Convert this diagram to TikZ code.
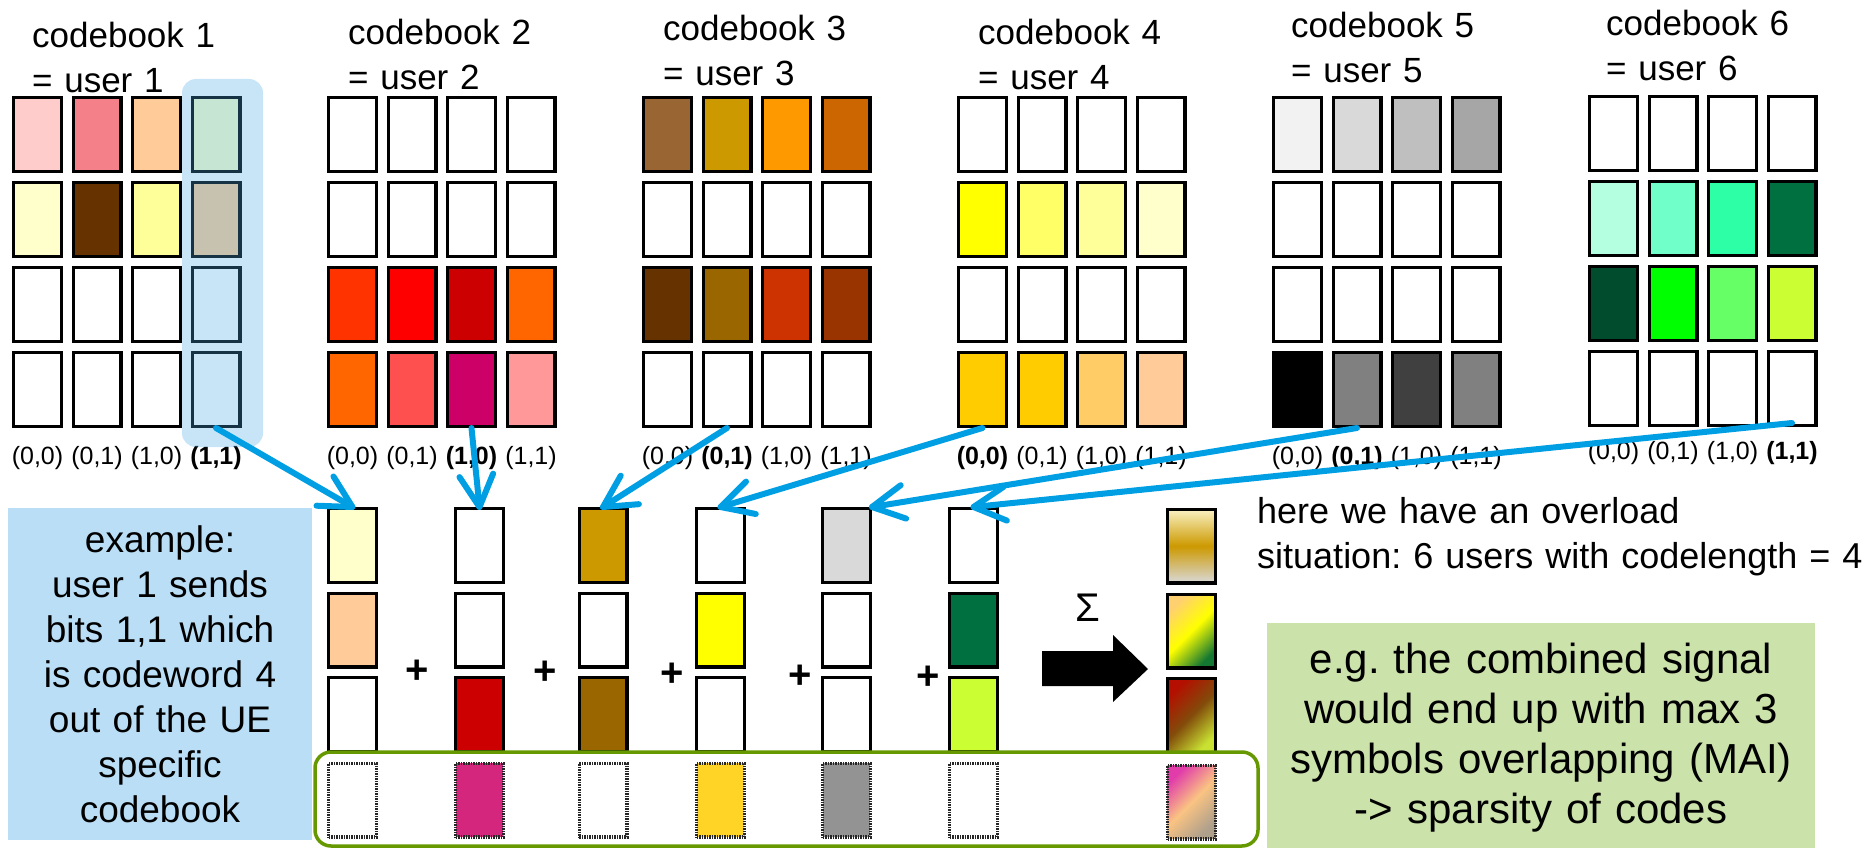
\documentclass[tikz,border=0pt]{standalone}
\usepackage{fontspec}
\setmainfont{Liberation Sans}
\usetikzlibrary{calc}
\frenchspacing
\definecolor{hFFCCCC}{HTML}{FFCCCC}
\definecolor{hF4808A}{HTML}{F4808A}
\definecolor{hFFCC99}{HTML}{FFCC99}
\definecolor{hFFFFCC}{HTML}{FFFFCC}
\definecolor{h663300}{HTML}{663300}
\definecolor{hFFFF99}{HTML}{FFFF99}
\definecolor{hFF3300}{HTML}{FF3300}
\definecolor{hFF0000}{HTML}{FF0000}
\definecolor{hCC0000}{HTML}{CC0000}
\definecolor{hFF6600}{HTML}{FF6600}
\definecolor{hFF5050}{HTML}{FF5050}
\definecolor{hCC0066}{HTML}{CC0066}
\definecolor{hFF9999}{HTML}{FF9999}
\definecolor{h996633}{HTML}{996633}
\definecolor{hCC9900}{HTML}{CC9900}
\definecolor{hFF9900}{HTML}{FF9900}
\definecolor{hCC6600}{HTML}{CC6600}
\definecolor{h996600}{HTML}{996600}
\definecolor{hCC3300}{HTML}{CC3300}
\definecolor{h993300}{HTML}{993300}
\definecolor{hFFFF00}{HTML}{FFFF00}
\definecolor{hFFFF66}{HTML}{FFFF66}
\definecolor{hFFCC00}{HTML}{FFCC00}
\definecolor{hFFCC66}{HTML}{FFCC66}
\definecolor{hF2F2F2}{HTML}{F2F2F2}
\definecolor{hD9D9D9}{HTML}{D9D9D9}
\definecolor{hBFBFBF}{HTML}{BFBFBF}
\definecolor{hA6A6A6}{HTML}{A6A6A6}
\definecolor{h000000}{HTML}{000000}
\definecolor{h808080}{HTML}{808080}
\definecolor{h404040}{HTML}{404040}
\definecolor{hB3FFE0}{HTML}{B3FFE0}
\definecolor{h70FFC8}{HTML}{70FFC8}
\definecolor{h2CFFA6}{HTML}{2CFFA6}
\definecolor{h007040}{HTML}{007040}
\definecolor{h004C2C}{HTML}{004C2C}
\definecolor{h00FF00}{HTML}{00FF00}
\definecolor{h66FF66}{HTML}{66FF66}
\definecolor{hCCFF33}{HTML}{CCFF33}
\definecolor{arrowblue}{HTML}{009FE3}
\definecolor{bluebg}{RGB}{186,222,245}
\definecolor{hilite}{RGB}{70,170,230}
\definecolor{greenbg}{RGB}{203,226,170}
\definecolor{greenframe}{HTML}{669900}
\definecolor{rAtop}{RGB}{250,242,195}
\definecolor{rBtop}{RGB}{255,208,112}
\definecolor{rBbot}{RGB}{20,120,50}
\definecolor{rCtop}{RGB}{180,15,0}
\definecolor{rCmid}{RGB}{130,75,10}
\definecolor{rCbot}{RGB}{200,225,50}
\definecolor{rDtop}{RGB}{225,60,170}
\definecolor{rDmid}{RGB}{250,195,130}
\definecolor{rDbot}{RGB}{175,160,140}

\newcommand\cbgrid[4]{%
  \foreach \cc [count=\n from 0] in {#4}{%
    \pgfmathtruncatemacro\cbrow{\n/4+1}%
    \pgfmathtruncatemacro\cbcol{\n-4*(\cbrow-1)+1}%
    \node[cell, fill=\cc] (cb#1-\cbrow-\cbcol) at ({#2+25.5+59.5*(\cbcol-1)}, {#3+38.5+85*(\cbrow-1)}) {};
  }}
% connector with an open barbed head: #1 start, #2 end
\newcommand\barrow[2]{%
  \draw[bluearrow] (#1) -- (#2);
  \draw[bluearrow] ($(#2)!36pt!28:(#1)$) -- (#2) -- ($(#2)!36pt!-28:(#1)$);
}

\begin{document}
\begin{tikzpicture}[x=1pt,y=-1pt,
  cell/.style={rectangle, draw=black, line width=3.3pt, minimum width=47.7pt, minimum height=73.7pt, inner sep=0pt},
  fadecell/.style={cell, draw=black!85, dash pattern=on 1.5pt off 1pt},
  cbtext/.style={font=\fontsize{35}{44.5}\selectfont, inner sep=0pt, anchor=base west, text width=230pt, align=left},
  bits/.style={font=\fontsize{25}{30}\selectfont, inner sep=0pt, anchor=base},
  plus/.style={font=\bfseries\fontsize{40}{40}\selectfont, inner sep=0pt},
  bluearrow/.style={draw=arrowblue, line width=6pt, line cap=round, line join=round},
  txt/.style={inner sep=0pt}]
\useasboundingbox (0,0) rectangle (1872,848);

% codebook grids
\cbgrid{1}{12}{96}{hFFCCCC,hF4808A,hFFCC99,hFFFFCC, hFFFFCC,h663300,hFFFF99,hFFCC99, white,white,white,white, white,white,white,white}
\cbgrid{2}{327}{96}{white,white,white,white, white,white,white,white, hFF3300,hFF0000,hCC0000,hFF6600, hFF6600,hFF5050,hCC0066,hFF9999}
\cbgrid{3}{642}{96}{h996633,hCC9900,hFF9900,hCC6600, white,white,white,white, h663300,h996600,hCC3300,h993300, white,white,white,white}
\cbgrid{4}{957}{96}{white,white,white,white, hFFFF00,hFFFF66,hFFFF99,hFFFFCC, white,white,white,white, hFFCC00,hFFCC00,hFFCC66,hFFCC99}
\cbgrid{5}{1272}{96}{hF2F2F2,hD9D9D9,hBFBFBF,hA6A6A6, white,white,white,white, white,white,white,white, h000000,h808080,h404040,h808080}
\cbgrid{6}{1588}{95}{white,white,white,white, hB3FFE0,h70FFC8,h2CFFA6,h007040, h004C2C,h00FF00,h66FF66,hCCFF33, white,white,white,white}

% codebook titles
\node[cbtext] (t1) at (32,48) {codebook 1\\= user 1};
\node[cbtext] (t2) at (348,45) {codebook 2\\= user 2};
\node[cbtext] (t3) at (663,41) {codebook 3\\= user 3};
\node[cbtext] (t4) at (978,45) {codebook 4\\= user 4};
\node[cbtext] (t5) at (1291,38) {codebook 5\\= user 5};
\node[cbtext] (t6) at (1606,36) {codebook 6\\= user 6};

% bit labels
\foreach \k/\lx/\by/\sel in {1/12/464/4, 2/327/464/3, 3/642/464/2, 4/957/464/1, 5/1272/464/2, 6/1588/459/4}{
  \foreach \lab [count=\c] in {{(0,0)},{(0,1)},{(1,0)},{(1,1)}}{
    \node[bits] (bits\k-\c) at ({\lx+25.5+59.5*(\c-1)}, \by) {\ifnum\c=\sel\bfseries\fi\lab};
  }}

% highlight of codeword 4 of codebook 1
\fill[hilite, opacity=0.3, rounded corners=14pt] (182,79) rectangle (263,447);

% left explanation box
\fill[bluebg] (8,508) rectangle (312,840);
\node[txt, font=\fontsize{37}{45}\selectfont, text width=304pt, align=center, anchor=base] (ex) at (160,552)
  {example:\\user 1 sends\\bits 1,1 which\\is codeword 4\\out of the UE\\specific\\codebook};

% sent codewords
\foreach \i/\x/\ca/\cb/\ccc/\cd in {1/352.5/hFFFFCC/hFFCC99/white/white, 2/479.5/white/white/hCC0000/hCC0066, 3/603/hCC9900/white/h996600/white, 4/720.5/white/hFFFF00/white/hFFCC00, 5/846.5/hD9D9D9/white/white/h808080, 6/973.5/white/h007040/hCCFF33/white}{
  \node[cell, fill=\ca] (b\i-1) at (\x,545.5) {};
  \node[cell, fill=\cb] (b\i-2) at (\x,630) {};
  \node[cell, fill=\ccc] (b\i-3) at (\x,714.5) {};
  \node[fadecell, fill=\cd!85!white] (b\i-4) at (\x,800) {};
}

% plus signs
\node[plus] (p1) at (417,672) {+};
\node[plus] (p2) at (545,673) {+};
\node[plus] (p3) at (672,675) {+};
\node[plus] (p4) at (800,677) {+};
\node[plus] (p5) at (928,678) {+};

% sum arrow
\node[txt, font=\fontsize{40}{40}\selectfont] (sigma) at (1088,608) {Σ};
\fill[black] (1042,651) -- (1113,651) -- (1113,635) -- (1148,669) -- (1113,702) -- (1113,686) -- (1042,686) -- cycle;

% combined signal
\node[cell, top color=rAtop, bottom color=hD9D9D9, middle color=hCC9900] (s1) at (1191.5,546) {};
\node[cell, top color=rBtop, bottom color=rBbot, middle color=hFFFF00, shading angle=45] (s2) at (1191.5,631) {};
\node[cell, top color=rCtop, bottom color=rCbot, middle color=rCmid, shading angle=45] (s3) at (1191.5,715.5) {};
\node[fadecell, top color=rDtop, bottom color=rDbot, middle color=rDmid, shading angle=45] (s4) at (1191.5,802) {};

% green frame round the sparse row
\draw[greenframe, line width=3.5pt, rounded corners=16pt] (315,752) rectangle (1258,846);

% texts on the right
\node[txt, font=\fontsize{36}{45}\selectfont, text width=620pt, align=left, anchor=base west] (ovl) at (1257,523)
  {here we have an overload\\situation: 6 users with codelength = 4};
\fill[greenbg] (1267,623) rectangle (1815,848);
\node[txt, font=\fontsize{42}{50}\selectfont, text width=548pt, align=center, anchor=base] (eg) at (1541,673)
  {e.g. the combined signal\\would end up with max 3\\symbols overlapping (MAI)\\-> sparsity of codes};

% connectors
\coordinate (c6start) at ([yshift=4pt]cb6-4-4.south);
\barrow{cb1-4-4.south}{b1-1.north}
\barrow{cb2-4-3.south}{b2-1.north}
\barrow{cb3-4-2.south}{b3-1.north}
\barrow{cb4-4-1.south}{b4-1.north}
\barrow{cb5-4-2.south}{b5-1.north east}
\barrow{c6start}{b6-1.north}
\end{tikzpicture}
\end{document}
